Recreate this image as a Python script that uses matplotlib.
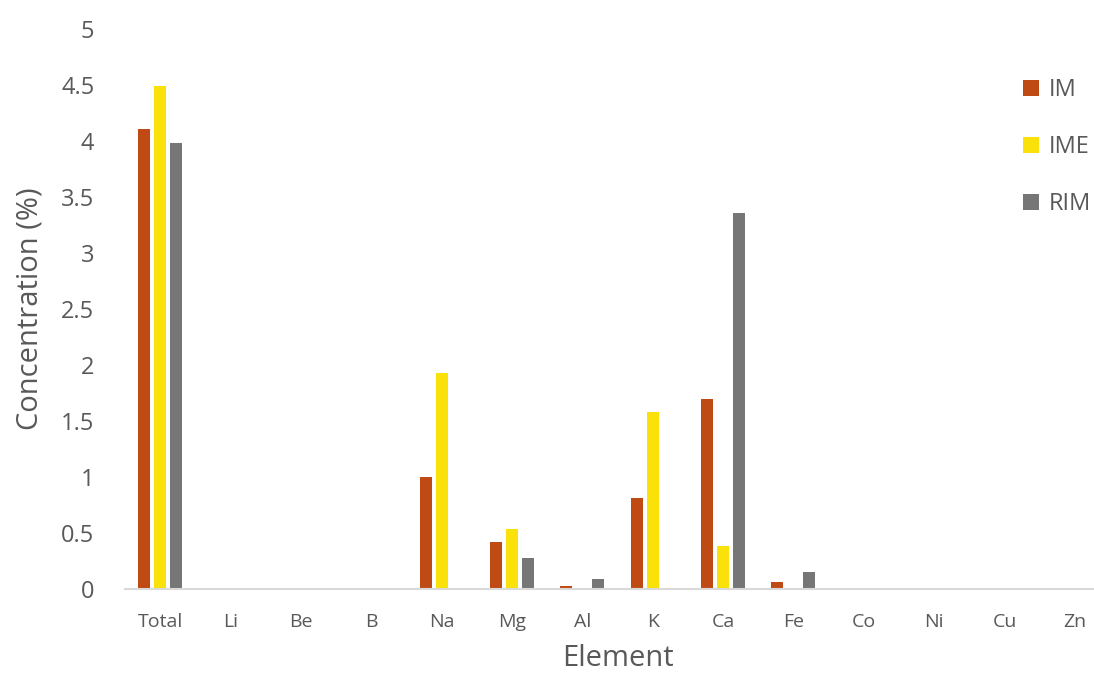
import numpy as np
import matplotlib.pyplot as plt

elements = ['Total', 'Li', 'Be', 'B', 'Na', 'Mg', 'Al', 'K', 'Ca', 'Fe', 'Co', 'Ni', 'Cu', 'Zn']
im = [4.11, 0, 0, 0, 1.0, 0.42, 0.03, 0.81, 1.70, 0.06, 0, 0, 0, 0]
ime = [4.49, 0, 0, 0, 1.93, 0.54, 0, 1.58, 0.38, 0, 0, 0, 0, 0]
rim = [3.98, 0, 0, 0, 0, 0.28, 0.09, 0, 3.36, 0.15, 0, 0, 0, 0]

plt.rcParams['font.family'] = ['Open Sans', 'DejaVu Sans']
txt = '#595959'

fig = plt.figure(figsize=(10.94, 6.75), dpi=100)
ax = fig.add_axes([125 / 1094, 1 - 589 / 675, 985 / 1094, 560 / 675])

x = np.arange(len(elements))
w = 0.17
step = 0.227
ax.bar(x - step, im, w, color='#C04A14', label='IM')
ax.bar(x, ime, w, color='#FAE10A', label='IME')
ax.bar(x + step, rim, w, color='#767676', label='RIM')

ax.set_xlim(-0.5, len(elements) - 0.5)
ax.set_ylim(0, 5)
ax.set_yticks(np.arange(0, 5.01, 0.5))
ax.set_yticklabels(['0', '0.5', '1', '1.5', '2', '2.5', '3', '3.5', '4', '4.5', '5'])
ax.set_xticks(x)
ax.set_xticklabels(elements)
ax.tick_params(axis='y', length=0, labelsize=17, colors=txt, pad=22)
ax.tick_params(axis='x', length=0, labelsize=14, colors=txt, pad=17)

for s in ['top', 'right', 'left']:
    ax.spines[s].set_visible(False)
ax.spines['bottom'].set_color('#D9D9D9')
ax.spines['bottom'].set_linewidth(1.5)

ax.set_ylabel('Concentration (%)', fontsize=21, color=txt, labelpad=12)
ax.set_xlabel('Element', fontsize=21, color=txt, labelpad=10)

ax.legend(loc='upper left', bbox_to_anchor=(0.89, 0.95), frameon=False,
          fontsize=17, labelcolor=txt, handlelength=0.7, handleheight=0.7,
          labelspacing=1.4, handletextpad=0.4)

fig.savefig('out.png', dpi=100)
